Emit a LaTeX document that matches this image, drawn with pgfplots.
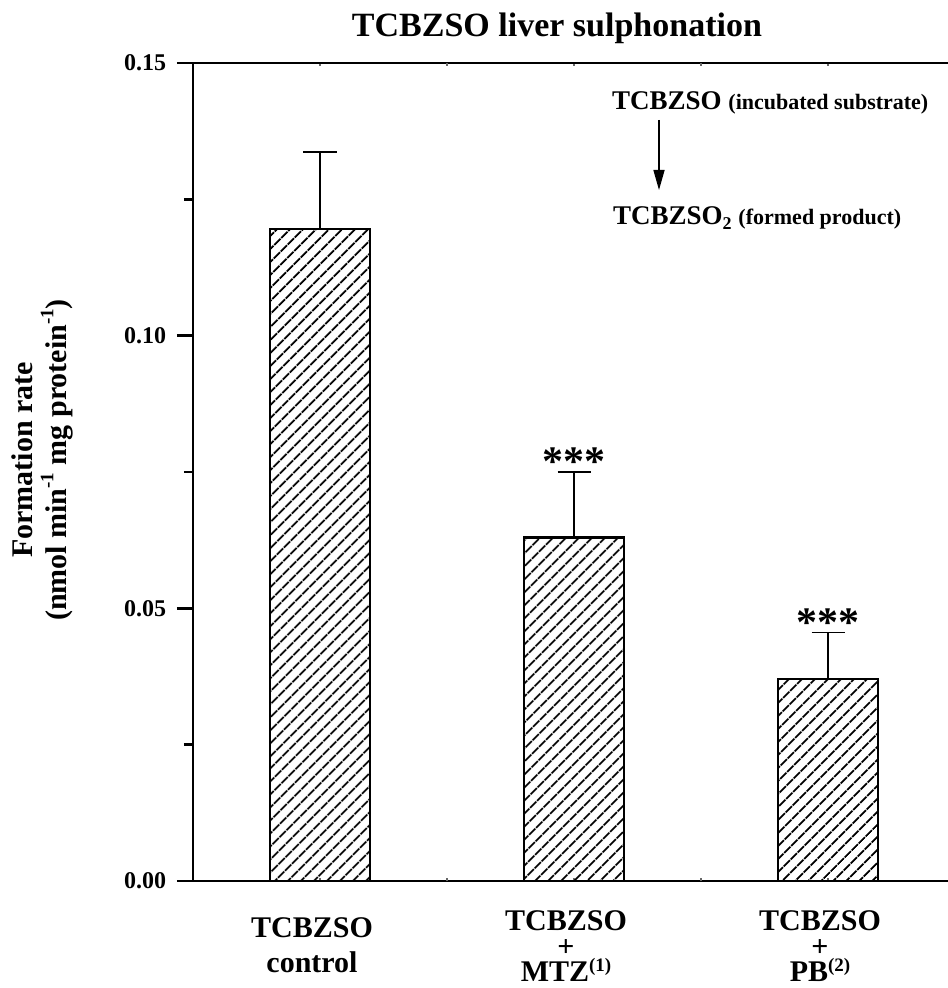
\documentclass[border=0pt]{standalone}
\usepackage{pgfplots}
\pgfplotsset{compat=1.18}
\usepackage{fontspec}
\setmainfont{Liberation Serif}
\usetikzlibrary{patterns.meta,arrows.meta}
\newcommand{\fsz}[2]{\fontsize{#1bp}{#2bp}\selectfont}
\newcommand{\sups}[1]{\raisebox{10bp}{\fsz{19}{19}#1}}
\begin{document}
\begin{tikzpicture}[x=1bp,y=1bp]
\begin{axis}[
  at={(0,0)}, anchor=south west,
  scale only axis, width=762bp, height=818bp,
  xmin=0, xmax=3, ymin=0, ymax=0.15,
  axis line style={line width=2.5bp, black},
  xtick={0.5,1.5,2.5},
  extra x ticks={1,2},
  extra x tick labels={},
  xticklabels={{\rule{0pt}{27.5bp}TCBZSO\\control},{TCBZSO\\[-9bp]+\\[-9.5bp]MTZ\sups{(1)}},{TCBZSO\\[-9bp]+\\[-9.5bp]PB\sups{(2)}}},
  xtick align=inside,
  xtick style={/pgfplots/major tick length=3bp, line width=1.2bp, black!60},
  xticklabel style={align=center, anchor=north, inner sep=0pt, yshift=-29bp, xshift=-8bp, font=\bfseries\fsz{30}{35}},
  ytick={0,0.05,0.1,0.15},
  minor ytick={0.025,0.075,0.125},
  ytick pos=left,
  ytick align=outside,
  ytick style={/pgfplots/major tick length=16bp, /pgfplots/minor tick length=9bp, line width=2.5bp, black},
  yticklabel style={xshift=-19bp, font=\bfseries\fsz{24}{24}, /pgf/number format/.cd, fixed, fixed zerofill, precision=2, assume math mode=true},
  clip=false,
]
\addplot[ybar, bar width=100bp, draw=black, line width=2.5bp,
  pattern={Lines[angle=45,distance=10bp,line width=2.3bp]}, pattern color=black,
  error bars/.cd, y dir=plus, y explicit, error mark=-,
  error bar style={line width=1.3bp, black},
  error mark options={line width=1.3bp, mark size=16.5bp, black, rotate=90}]
  coordinates {(0.5,0.1196) +- (0,0.0141) (1.5,0.063) +- (0,0.012) (2.5,0.037) +- (0,0.0086)};
\node[anchor=base, font=\bfseries\fsz{42}{42}, yshift=-4bp] at (axis cs:1.5,0.075) {***};
\node[anchor=base, font=\bfseries\fsz{42}{42}, yshift=-4bp] at (axis cs:2.5,0.0456) {***};
\end{axis}
% title
\node[anchor=base, font=\bfseries\fsz{34}{34}] at (364,844) {TCBZSO liver sulphonation};
% y label
\node[anchor=base, rotate=90, font=\bfseries\fsz{30}{30}] at (-160,421) {Formation rate};
\node[anchor=base, rotate=90, font=\bfseries\fsz{30}{30}] at (-126,421) {(nmol min\raisebox{0.45em}{\fsz{19}{19}-1} mg protein\raisebox{0.45em}{\fsz{19}{19}-1})};
% reaction annotation
\node[anchor=base west, inner sep=0pt, font=\bfseries] at (419,771) {\fsz{27}{27}TCBZSO \fsz{22}{22}(incubated substrate)};
\draw[line width=1.5bp, -{Triangle[length=20bp,width=11bp]}] (466,761) -- (466,691);
\node[anchor=base west, inner sep=0pt, font=\bfseries] at (420,656) {\fsz{27}{27}TCBZSO\raisebox{-0.18em}{\fsz{18}{18}2} \fsz{22}{22}(formed product)};
\pgfresetboundingbox
\path[use as bounding box] (-193,-107) rectangle (755,881);
\end{tikzpicture}
\end{document}
